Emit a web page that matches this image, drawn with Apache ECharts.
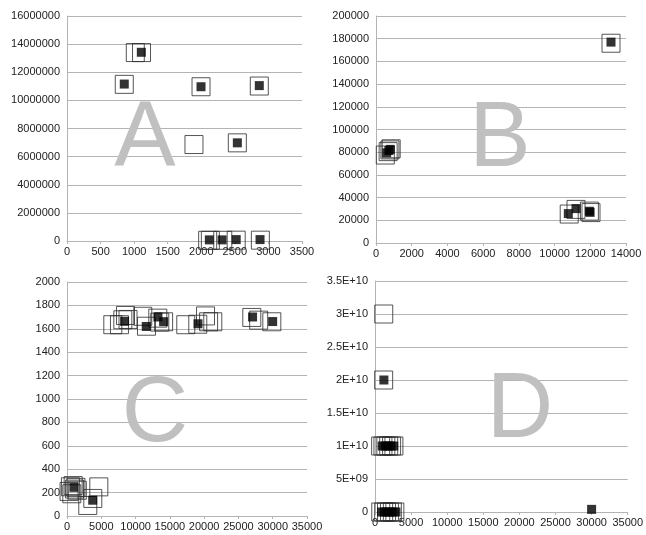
<!DOCTYPE html>
<html>
<head>
<meta charset="utf-8">
<script src="https://cdn.jsdelivr.net/npm/echarts@6/dist/echarts.min.js"></script>
<style>
  html, body { margin: 0; padding: 0; background: #fff; }
  #chart { width: 646px; height: 535px; }
</style>
</head>
<body>
<div id="chart"></div>
<script>
// Panel A
const aOpenX = [1017, 1110, 853, 1996, 2864, 1891, 2537, 2095, 2135, 2320, 2520, 2880];
const aOpenY = [13400000, 13400000, 11140000, 10970000, 11020000, 6860000, 6980000, 50000, 50000, 50000, 60000, 60000];
const aFillX = [1107, 853, 1996, 2864, 2537, 2120, 2310, 2520, 2875];
const aFillY = [13420000, 11160000, 10970000, 11050000, 6980000, 80000, 80000, 100000, 100000];

// Panel B
const bOpenX = [13160, 520, 680, 780, 850, 10820, 11200, 11950, 12040];
const bOpenY = [176000, 77500, 80500, 82000, 83000, 25500, 29600, 28100, 26800];
const bFillX = [13160, 600, 720, 800, 10770, 11200, 11950, 11990];
const bFillY = [177000, 79500, 81500, 82500, 25900, 30300, 28000, 27000];

// Panel C
const cOpenX = [6680, 7650, 8140, 8530, 8900, 11050, 11590, 13240, 13530, 14090,
                17320, 19070, 20200, 20650, 21260, 26950, 27950, 29870,
                300, 500, 700, 900, 1100, 1300, 1500, 4640, 3030, 3760];
const cOpenY = [1635, 1635, 1677, 1714, 1680, 1707, 1622, 1691, 1657, 1660,
                1635, 1639, 1710, 1660, 1660, 1697, 1674, 1660,
                210, 250, 190, 260, 230, 245, 220, 249, 90, 150];
const cFillX = [8400, 11560, 13260, 14090, 19100, 27060, 29990, 1000, 3750];
const cFillY = [1664, 1620, 1701, 1661, 1643, 1701, 1662, 245, 135];

// Panel D
const dOpenX = [1210, 1200, 780, 1100, 1500, 1900, 2300, 2620, 800, 1200, 1600, 2000, 2400, 2750];
const dOpenY = [3.0e10, 2.0e10, 1.0e10, 1.0e10, 1.0e10, 1.0e10, 1.0e10, 1.0e10, 0, 0, 0, 0, 0, 0];
const dFillX = [1230, 1000, 1400, 1800, 2200, 2600, 900, 1300, 1700, 2100, 2500, 2900, 30000];
const dFillY = [2.0e10, 1.0e10, 1.0e10, 1.0e10, 1.0e10, 1.0e10, 0, 0, 0, 0, 0, 0, 4e8];

// Tick labels for panel D's y axis
const dYTicks = ['0', '5E+09', '1E+10', '1.5E+10', '2E+10', '2.5E+10', '3E+10', '3.5E+10'];

const panelLetters = ['A', 'B', 'C', 'D'];

function zip(xs, ys) { return xs.map((x, i) => [x, ys[i]]); }

const grids = [
  { left: 67, top: 16, width: 235, height: 225 },
  { left: 376, top: 16, width: 250, height: 227 },
  { left: 67, top: 282, width: 240, height: 234 },
  { left: 375, top: 281, width: 254, height: 231 }
];

const labelFont = { color: '#222', fontSize: 11, fontFamily: 'Liberation Sans, Arial, sans-serif' };
const gridLine = { show: true, lineStyle: { color: '#b4b4b4', width: 1 } };
const plain = (v) => String(v);

function xAx(i, max, interval) {
  return {
    type: 'value', gridIndex: i, min: 0, max: max, interval: interval,
    axisLine: { show: true, onZero: false, lineStyle: { color: '#b4b4b4' } },
    axisTick: { show: true, length: 3, lineStyle: { color: '#b4b4b4' } },
    axisLabel: Object.assign({ margin: 5, formatter: plain }, labelFont),
    splitLine: { show: false }
  };
}
function yAx(i, max, interval, fmt) {
  return {
    type: 'value', gridIndex: i, min: 0, max: max, interval: interval,
    axisLine: { show: true, lineStyle: { color: '#b4b4b4' } },
    axisTick: { show: false },
    axisLabel: Object.assign({ margin: 7, formatter: fmt || plain }, labelFont),
    splitLine: gridLine
  };
}

function openSeries(i, data) {
  return {
    type: 'scatter', xAxisIndex: i, yAxisIndex: i, data: data,
    symbol: 'rect', symbolSize: 18,
    itemStyle: { color: 'rgba(255,255,255,0)', borderColor: '#2a2a2a', borderWidth: 1 },
    emphasis: { disabled: true }, z: 3
  };
}
function fillSeries(i, data) {
  return {
    type: 'scatter', xAxisIndex: i, yAxisIndex: i, data: data,
    symbol: 'rect', symbolSize: 9,
    itemStyle: { color: '#000' },
    emphasis: { disabled: true }, z: 4
  };
}

// centre of each big panel letter
const letterPos = [[145, 141], [500, 141], [155, 416], [520, 412]];

const option = {
  animation: false,
  backgroundColor: '#fff',
  grid: grids,
  xAxis: [xAx(0, 3500, 500), xAx(1, 14000, 2000), xAx(2, 35000, 5000), xAx(3, 35000, 5000)],
  yAxis: [
    yAx(0, 16000000, 2000000),
    yAx(1, 200000, 20000),
    yAx(2, 2000, 200),
    yAx(3, 3.5e10, 5e9, (v) => dYTicks[Math.round(v / 5e9)])
  ],
  graphic: panelLetters.map((t, i) => ({
    type: 'text', x: letterPos[i][0], y: letterPos[i][1], z: 1,
    style: {
      text: t, fill: '#c0c0c0', fontSize: 92,
      fontFamily: 'Liberation Sans, Arial, sans-serif',
      align: 'center', verticalAlign: 'middle'
    }
  })),
  series: [
    openSeries(0, zip(aOpenX, aOpenY)), fillSeries(0, zip(aFillX, aFillY)),
    openSeries(1, zip(bOpenX, bOpenY)), fillSeries(1, zip(bFillX, bFillY)),
    openSeries(2, zip(cOpenX, cOpenY)), fillSeries(2, zip(cFillX, cFillY)),
    openSeries(3, zip(dOpenX, dOpenY)), fillSeries(3, zip(dFillX, dFillY))
  ]
};

const chart = echarts.init(document.getElementById('chart'), null, { renderer: 'canvas' });
chart.setOption(option);
</script>
</body>
</html>
